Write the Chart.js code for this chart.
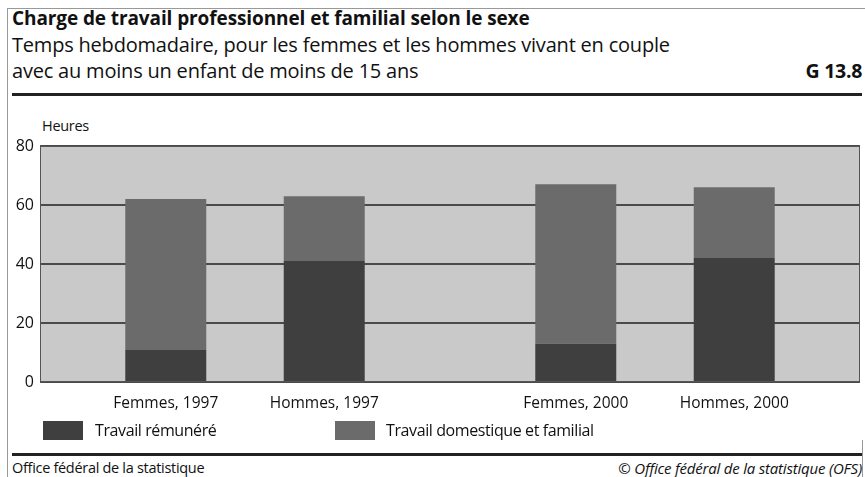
<!DOCTYPE html>
<html><head><meta charset="utf-8">
<script src="https://cdn.jsdelivr.net/npm/chart.js@4"></script>
<style>
html,body{margin:0;padding:0;background:#fff;}
body{width:865px;height:477px;position:relative;overflow:hidden;font-family:"Open Sans","Noto Sans",sans-serif;color:#111;}
.abs{position:absolute;white-space:nowrap;}
#frameTop{left:7px;top:8px;width:858px;height:0;border-top:1px solid #999;}
#frameLeft{left:7px;top:8px;width:0;height:469px;border-left:1px solid #999;}
#frameRight{left:862px;top:440px;width:0;height:37px;border-left:1px solid #999;}
#rule1{left:12px;top:93px;width:850px;height:3px;background:#222;}
#rule2{left:12px;top:453px;width:850px;height:3px;background:#222;}
#t1{left:12px;top:5px;font-size:19px;font-weight:700;letter-spacing:-0.1px;}
#t2{left:12px;top:31px;font-size:20px;letter-spacing:-0.2px;}
#t3{left:12px;top:57px;font-size:20px;letter-spacing:-0.2px;}
#gno{right:3px;top:57px;font-size:19.5px;font-weight:700;letter-spacing:-0.3px;}
#unit{left:42px;top:116px;font-size:14.5px;letter-spacing:-0.3px;}
.lg{top:421px;width:40px;height:19px;}
.lgt{top:419px;font-size:16px;letter-spacing:-0.4px;}
#f1{left:12px;top:458px;font-size:14.5px;letter-spacing:-0.3px;}
#f2{right:3px;top:458px;font-size:15px;font-style:italic;letter-spacing:-0.2px;}
#cv{position:absolute;left:0;top:100px;}
</style></head>
<body>
<div class="abs" id="frameTop"></div>
<div class="abs" id="frameLeft"></div>
<div class="abs" id="frameRight"></div>
<div class="abs" id="t1">Charge de travail professionnel et familial selon le sexe</div>
<div class="abs" id="t2">Temps hebdomadaire, pour les femmes et les hommes vivant en couple</div>
<div class="abs" id="t3">avec au moins un enfant de moins de 15 ans</div>
<div class="abs" id="gno">G 13.8</div>
<div class="abs" id="rule1"></div>
<div class="abs" id="unit">Heures</div>
<div id="cvwrap"><canvas id="cv" width="865" height="320"></canvas></div>
<div class="abs lg" style="left:43px;background:#3f3f3f"></div>
<div class="abs lgt" style="left:95px">Travail rémunéré</div>
<div class="abs lg" style="left:335px;background:#6b6b6b"></div>
<div class="abs lgt" style="left:386px">Travail domestique et familial</div>
<div class="abs" id="rule2"></div>
<div class="abs" id="f1">Office fédéral de la statistique</div>
<div class="abs" id="f2">© Office fédéral de la statistique (OFS)</div>
<script>
const years = ['1997', '2000'];
const genders = ['Femmes', 'Hommes'];
const paidFemmes = [11, 13];
const domesticFemmes = [51, 54];
const paidHommes = [41, 42];
const domesticHommes = [22, 24];
const yTicks = [0, 20, 40, 60, 80];
const seriesNames = ['Travail rémunéré', 'Travail domestique et familial'];

const PAID = '#3f3f3f', DOM = '#6b6b6b';
const FONT = '"Open Sans", "Noto Sans", sans-serif';

const bgPlugin = {
  id: 'bg',
  beforeDraw(chart) {
    const {ctx, chartArea: a} = chart;
    ctx.save();
    ctx.fillStyle = '#c9c9c9';
    ctx.fillRect(a.left, a.top, a.right - a.left, a.bottom - a.top);
    ctx.restore();
  },
  afterDraw(chart) {
    const {ctx, chartArea: a} = chart;
    ctx.save();
    ctx.strokeStyle = '#555';
    ctx.lineWidth = 1;
    ctx.strokeRect(a.left + 0.5, a.top + 0.5, a.right - a.left - 1, a.bottom - a.top - 1);
    ctx.fillStyle = '#111';
    ctx.font = '15.5px ' + FONT;
    ctx.textAlign = 'center';
    ctx.textBaseline = 'middle';
    [0, 2].forEach((di, gi) => {
      const meta = chart.getDatasetMeta(di);
      meta.data.forEach((bar, yi) => {
        ctx.fillText(genders[gi] + ', ' + years[yi], bar.x, a.bottom + 22);
      });
    });
    ctx.restore();
  }
};

new Chart(document.getElementById('cv'), {
  type: 'bar',
  data: {
    labels: years,
    datasets: [
      {label: seriesNames[0], data: paidFemmes, stack: 'F', backgroundColor: PAID},
      {label: seriesNames[1], data: domesticFemmes, stack: 'F', backgroundColor: DOM},
      {label: seriesNames[0], data: paidHommes, stack: 'H', backgroundColor: PAID},
      {label: seriesNames[1], data: domesticHommes, stack: 'H', backgroundColor: DOM}
    ]
  },
  options: {
    responsive: false,
    animation: false,
    categoryPercentage: 0.773,
    barPercentage: 0.511,
    layout: {padding: {top: 46, bottom: 38, left: 0, right: 5}},
    plugins: {legend: {display: false}, tooltip: {enabled: false}},
    scales: {
      x: {stacked: true, display: false},
      y: {
        stacked: true, min: 0, max: 80,
        afterBuildTicks(s) { s.ticks = yTicks.map(v => ({value: v})); },
        afterFit(s) { s.width = 40; },
        border: {display: false},
        grid: {color: '#4a4a4a', lineWidth: 2, drawTicks: false},
        ticks: {color: '#111', padding: 6, font: {size: 16, family: FONT}}
      }
    }
  },
  plugins: [bgPlugin]
});
</script>
</body></html>
